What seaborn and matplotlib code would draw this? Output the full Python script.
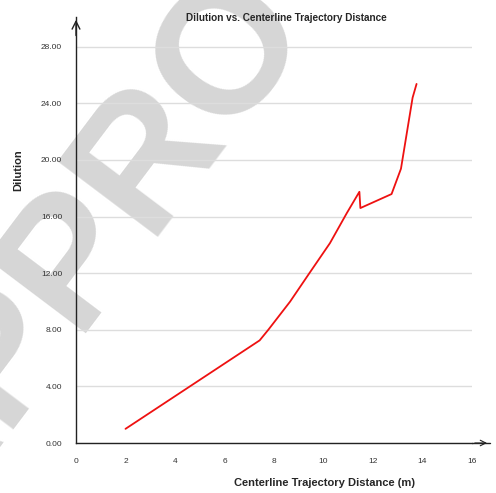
import matplotlib
matplotlib.use("Agg")
import matplotlib.pyplot as plt
import seaborn as sns
import pandas as pd
from matplotlib.ticker import MultipleLocator, FormatStrFormatter

distance = [2.0, 7.42, 7.77, 8.65, 9.43, 10.26, 10.94, 11.45, 11.49, 12.75, 13.13, 13.60, 13.76]
dilution = [1.0, 7.25, 8.0, 9.99, 12.0, 14.12, 16.24, 17.75, 16.6, 17.59, 19.38, 24.4, 25.37]
y_ticks = [0, 4, 8, 12, 16, 20, 24, 28]
x_ticks = [0, 2, 4, 6, 8, 10, 12, 14, 16]

df = pd.DataFrame({"distance": distance, "dilution": dilution})

sns.set_style("white")
plt.rcParams['font.family'] = ['Liberation Sans', 'DejaVu Sans']

fig = plt.figure(figsize=(4.96, 4.93), dpi=100)
fig.patch.set_facecolor("white")

# watermark
fig.text(-0.148, -0.0927, "APPROVED", fontsize=130, fontweight="bold", color="#d6d6d6",
         rotation=53, rotation_mode="anchor", ha="left", va="baseline", zorder=0)

ax = fig.add_axes([76/496, 1-443/493, 396/496, (443-17)/493])
ax.set_facecolor("none")
ax.set_zorder(1)

sns.lineplot(data=df, x="distance", y="dilution", ax=ax, color="#ee1111",
             linewidth=1.3, sort=False, estimator=None)

ax.set_xlim(0, 16)
ax.set_ylim(0, 30.1)
ax.set_xticks(x_ticks)
ax.set_yticks(y_ticks)
ax.xaxis.set_minor_locator(MultipleLocator(0.4))
ax.yaxis.set_minor_locator(MultipleLocator(0.8))
ax.yaxis.set_major_formatter(FormatStrFormatter("%.2f"))
ax.xaxis.set_major_formatter(FormatStrFormatter("%d"))

for s in ["top", "right"]:
    ax.spines[s].set_visible(False)
for s in ["left", "bottom"]:
    ax.spines[s].set_color("#222222")
    ax.spines[s].set_linewidth(1.0)

ax.tick_params(axis="both", which="major", direction="out", length=5, width=0.8,
               color="#222222", labelsize=6, labelcolor="#333333", pad=5)
ax.tick_params(axis="both", which="minor", direction="inout", length=3, width=0.7,
               color="#222222")
ax.tick_params(axis="x", which="major", pad=6)

ax.yaxis.grid(True, color="#dddddd", linewidth=1.0)
ax.xaxis.grid(False)
ax.set_axisbelow(True)

# axis arrows
ax.annotate("", xy=(0, 1.0), xytext=(0, 0.95), xycoords="axes fraction",
            arrowprops=dict(arrowstyle="->", color="#222222", lw=1.0,
                            mutation_scale=14), annotation_clip=False)
ax.plot([1.0, 1.045], [0, 0], transform=ax.transAxes, color="#222222",
        lw=1.0, clip_on=False)
ax.annotate("", xy=(1.045, 0), xytext=(1.0, 0), xycoords="axes fraction",
            arrowprops=dict(arrowstyle="->", color="#222222", lw=0.8,
                            mutation_scale=10), annotation_clip=False)

ax.set_xlabel("")
ax.set_ylabel("")
fig.text(286/496, 1-18/493, "Dilution vs. Centerline Trajectory Distance",
         fontsize=7.2, fontweight="bold", ha="center", va="center")
fig.text(324/496, 1-483/493, "Centerline Trajectory Distance (m)",
         fontsize=8, fontweight="bold", ha="center", va="center")
fig.text(18/496, 1-170/493, "Dilution", fontsize=8, fontweight="bold",
         ha="center", va="center", rotation=90)

fig.savefig("out.png", dpi=100)
